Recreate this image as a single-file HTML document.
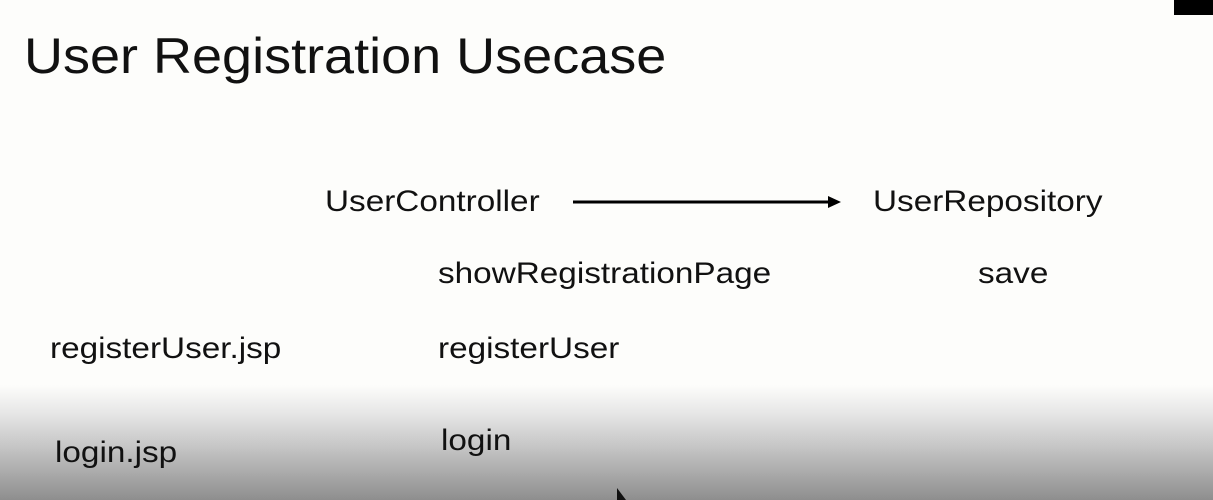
<!DOCTYPE html>
<html><head><style>
body{margin:0;width:1213px;height:500px;overflow:hidden;background:#fdfdfb;position:relative;font-family:"Liberation Sans",sans-serif;color:#000}
.g{position:absolute;left:0;top:385px;width:1213px;height:115px;background:linear-gradient(#fdfdfb 0%,#e6e6e6 25%,#c4c4c4 55%,#8e8e8e 100%)}
.t{position:absolute;white-space:nowrap;font-size:30px;line-height:1;transform:scaleX(1.11);transform-origin:0 0;color:#111}
</style></head><body>
<div class="g"></div>
<div style="position:absolute;left:1174px;top:0;width:39px;height:15px;background:#000"></div>
<div class="t" style="left:24px;top:31px;font-size:50px;transform:scaleX(1.08)">User Registration Usecase</div>
<div class="t" style="left:325px;top:187px">UserController</div>
<div class="t" style="left:873px;top:187px">UserRepository</div>
<div class="t" style="left:438px;top:259px">showRegistrationPage</div>
<div class="t" style="left:978px;top:259px">save</div>
<div class="t" style="left:50px;top:334px">registerUser.jsp</div>
<div class="t" style="left:438px;top:334px">registerUser</div>
<div class="t" style="left:55px;top:438px">login.jsp</div>
<div class="t" style="left:441px;top:426px">login</div>
<svg style="position:absolute;left:0;top:0" width="1213" height="500">
<line x1="573" y1="202" x2="830" y2="202" stroke="#000" stroke-width="3"/>
<polygon points="828,196 841,202 828,208" fill="#000"/>
<polygon points="617,488 617,500 626,500" fill="#111"/>
</svg>
</body></html>
